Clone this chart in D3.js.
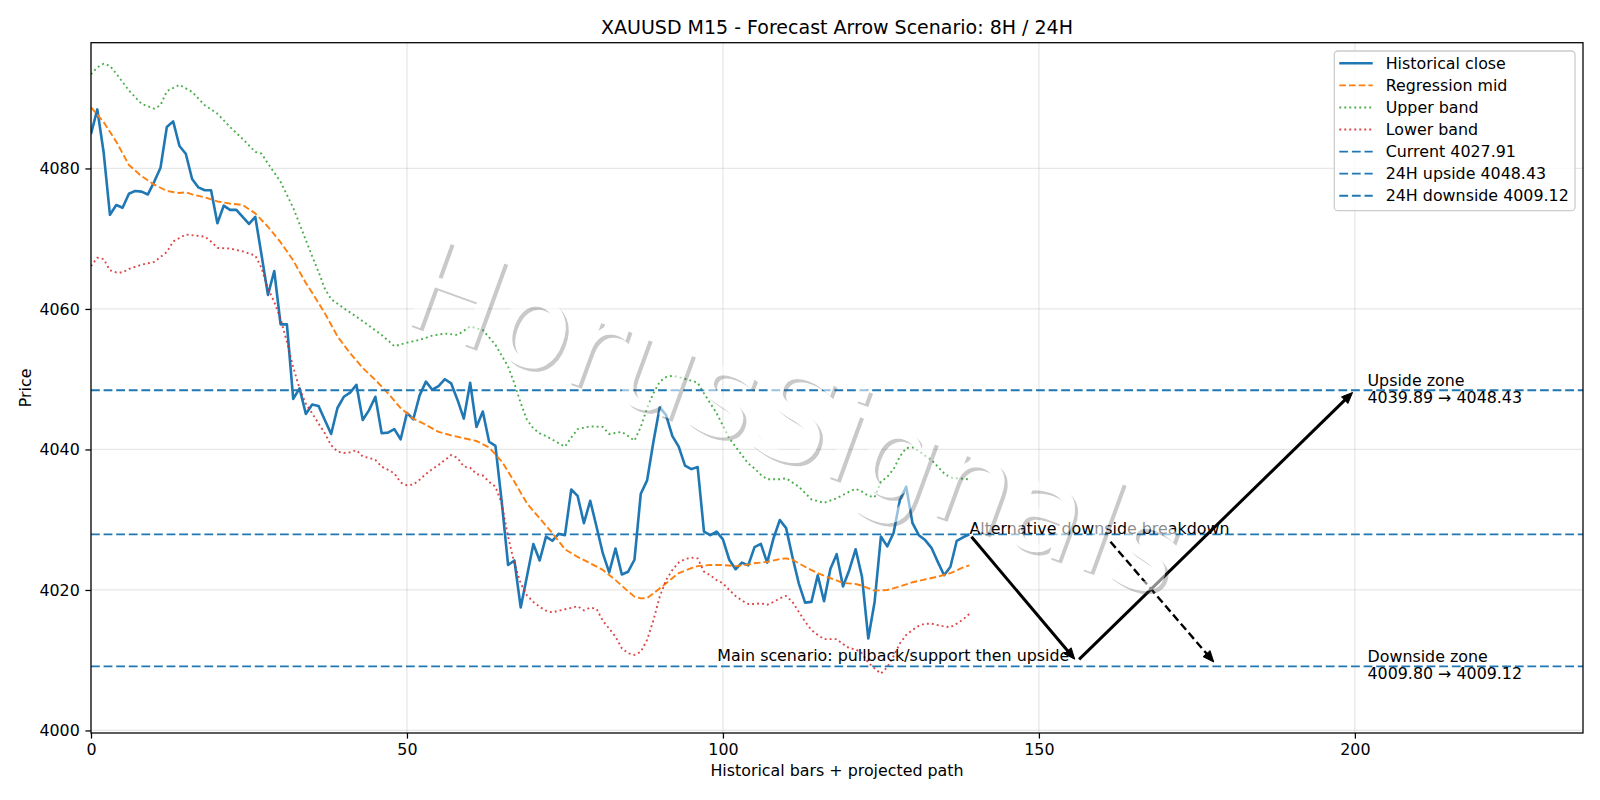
<!DOCTYPE html>
<html>
<head>
<meta charset="utf-8">
<script src="https://cdn.jsdelivr.net/npm/d3@7"></script>
<style>
  body { margin: 0; background: #fff; }
  text { font-family: "DejaVu Sans", sans-serif; }
</style>
</head>
<body>
<script>
// historical close, one value per bar (bar index = position)
const closeBars = [
  4084.9, 4088.4, 4082.3, 4073.4, 4074.8, 4074.4, 4076.4, 4076.8, 4076.7, 4076.3,
  4078.1, 4080.1, 4085.9, 4086.7, 4083.2, 4082.1, 4078.5, 4077.3, 4076.9, 4076.9,
  4072.2, 4074.7, 4074.1, 4074.1, 4073.1, 4072.1, 4073.1, 4067.6, 4062.0, 4065.4,
  4057.8, 4057.8, 4047.2, 4048.7, 4045.05, 4046.4, 4046.2, 4044.2, 4042.2, 4045.9,
  4047.5, 4048.1, 4049.2, 4044.2, 4045.6, 4047.5, 4042.3, 4042.4, 4042.9, 4041.45,
  4045.2, 4044.3, 4047.7, 4049.65, 4048.5, 4049.0, 4050.0, 4049.4, 4047.05, 4044.4,
  4049.5, 4043.2, 4045.4, 4041.1, 4040.5, 4032.5, 4023.56, 4024.2, 4017.5, 4022.0,
  4026.55, 4024.2, 4027.6, 4027.0, 4028.0, 4027.8, 4034.3, 4033.4, 4029.5, 4032.7,
  4029.0, 4025.2, 4022.5, 4025.9, 4022.2, 4022.6, 4024.3, 4033.7, 4035.6, 4041.1,
  4046.0, 4044.9, 4041.9, 4040.4, 4037.7, 4037.2, 4037.5, 4028.3, 4027.8, 4028.3,
  4027.2, 4024.3, 4022.95, 4023.9, 4023.5, 4026.1, 4026.55, 4023.9, 4027.35, 4029.96,
  4028.8, 4024.7, 4020.95, 4018.2, 4018.3, 4022.1, 4018.4, 4023.0, 4025.1, 4020.5,
  4022.85, 4025.8, 4021.9, 4013.1, 4018.3, 4027.6, 4026.2, 4028.1, 4032.8, 4034.7,
  4029.5, 4027.8, 4027.1, 4026.0, 4024.0, 4022.1, 4023.3, 4027.0, 4027.5, 4027.91
];

// regression mid / bands, read as [bar, price]
const regMid = [
  [0,4088.7],[2,4086.6],[4,4083.8],[6,4080.5],[8,4078.9],[10,4077.7],[12,4076.8],[14,4076.5],
  [15,4076.6],[16,4076.3],[18,4075.9],[20,4075.3],[22,4075.0],[24,4074.8],[26,4073.6],[28,4071.7],
  [30,4069.5],[32,4066.9],[34,4063.7],[35,4062.3],[37,4059.4],[39,4056.1],[41,4053.7],[43,4051.6],
  [45,4049.9],[47,4048.0],[49,4045.9],[51,4044.4],[53,4043.5],[55,4042.5],[57,4042.0],[59,4041.6],
  [61,4041.2],[63,4040.3],[65,4038.3],[67,4035.4],[69,4032.3],[71,4030.2],[73,4028.1],[75,4025.8],
  [77,4024.7],[79,4023.8],[81,4022.85],[83,4021.4],[85,4019.8],[86,4019.05],[87,4018.8],[88,4018.85],
  [89,4019.5],[91,4020.95],[93,4022.4],[95,4023.1],[96,4023.4],[98,4023.55],[100,4023.55],[102,4023.4],
  [104,4023.6],[105,4023.8],[107,4024.0],[109,4024.4],[110,4024.5],[111,4024.3],[113,4023.3],[115,4022.4],
  [117,4021.7],[119,4021.0],[121,4020.85],[122,4020.6],[124,4019.9],[126,4020.0],[128,4020.5],[130,4021.1],
  [132,4021.5],[134,4021.9],[136,4022.4],[138,4023.2],[139,4023.5]
];

const upperBand = [
  [0,4093.4],[1,4094.4],[2,4094.9],[3,4094.6],[4,4093.5],[6,4091.1],[8,4089.2],[10,4088.5],
  [11,4089.0],[12,4091.0],[14,4091.9],[16,4090.9],[18,4089.0],[20,4087.8],[22,4085.9],[24,4084.2],
  [26,4082.35],[27,4082.1],[28,4080.7],[30,4078.1],[32,4074.4],[34,4069.8],[35,4067.5],[36,4065.3],
  [37,4062.9],[38,4061.4],[40,4060.1],[42,4058.9],[44,4057.6],[46,4056.3],[48,4054.7],[50,4055.2],
  [52,4055.6],[54,4056.2],[56,4056.5],[58,4056.3],[60,4057.5],[62,4057.0],[64,4054.9],[66,4051.8],
  [67,4049.4],[68,4046.6],[69,4044.2],[70,4043.0],[71,4042.3],[72,4041.9],[74,4040.9],[75,4040.4],
  [76,4041.7],[77,4042.9],[79,4043.3],[81,4043.2],[82,4042.2],[84,4042.5],[85,4041.9],[86,4041.25],
  [87,4043.2],[88,4045.9],[89,4048.0],[90,4049.65],[91,4050.3],[92,4050.5],[93,4050.3],[95,4049.8],
  [96,4049.5],[97,4048.0],[99,4045.15],[101,4041.6],[102,4040.4],[104,4038.0],[105,4037.3],[106,4036.4],
  [107,4035.75],[109,4035.75],[110,4035.9],[112,4034.7],[114,4032.9],[116,4032.4],[118,4033.05],[120,4034.0],
  [121,4034.4],[122,4034.0],[123,4033.4],[124,4033.2],[125,4035.4],[126,4036.1],[127,4037.2],[128,4039.0],
  [129,4040.2],[130,4040.3],[131,4039.8],[132,4039.1],[133,4038.5],[134,4037.55],[135,4036.6],[136,4036.0],
  [137,4035.9],[139,4035.75]
];

const lowerBand = [
  [0,4066.1],[1,4067.3],[2,4067.1],[3,4065.5],[4,4065.2],[5,4065.2],[6,4065.7],[8,4066.3],
  [10,4066.7],[12,4068.1],[13,4069.6],[15,4070.6],[17,4070.4],[18,4070.3],[19,4069.6],[20,4068.7],
  [22,4068.6],[24,4068.2],[26,4067.6],[27,4065.8],[28,4062.9],[29,4061.0],[30,4058.6],[31,4055.3],
  [32,4051.7],[33,4048.7],[34,4046.5],[35,4045.15],[36,4043.7],[37,4042.3],[38,4040.6],[39,4039.7],
  [40,4039.5],[41,4039.6],[42,4039.9],[43,4039.0],[44,4038.8],[45,4038.5],[46,4037.55],[47,4037.1],
  [48,4036.6],[49,4035.3],[50,4034.9],[51,4035.0],[52,4035.7],[53,4036.5],[54,4037.2],[55,4037.8],
  [56,4038.5],[57,4039.2],[58,4038.8],[59,4037.55],[60,4037.4],[61,4036.5],[62,4036.3],[63,4035.4],
  [64,4034.7],[65,4032.3],[66,4027.6],[67,4023.8],[68,4020.95],[69,4019.2],[70,4018.3],[71,4017.6],
  [72,4017.05],[73,4016.8],[74,4017.05],[75,4017.25],[76,4017.45],[77,4017.7],[78,4017.1],[79,4017.5],
  [80,4017.3],[81,4015.6],[82,4014.5],[83,4013.35],[84,4011.7],[85,4011.0],[86,4010.75],[87,4011.2],
  [88,4012.9],[89,4015.7],[90,4019.05],[91,4021.4],[92,4022.85],[93,4023.9],[94,4024.4],[95,4024.6],
  [96,4024.5],[97,4022.6],[98,4022.1],[99,4021.4],[100,4020.95],[101,4020.0],[102,4019.15],[103,4018.5],
  [104,4018.0],[105,4018.0],[106,4018.1],[107,4017.9],[108,4018.3],[109,4018.8],[110,4019.15],[111,4018.3],
  [112,4016.9],[113,4015.5],[114,4014.3],[115,4013.6],[116,4013.0],[117,4013.0],[118,4013.0],[119,4012.3],
  [120,4011.7],[121,4011.55],[122,4011.0],[123,4009.65],[124,4008.85],[125,4008.1],[126,4009.0],[127,4010.6],
  [128,4012.4],[129,4013.6],[130,4014.3],[131,4014.9],[132,4015.2],[133,4015.2],[134,4015.0],[135,4014.8],
  [136,4014.7],[137,4015.2],[138,4015.8],[139,4016.6]
];

// levels
const currentPrice = 4027.91;
const upside24h = 4048.43;
const downside24h = 4009.12;
const upsideZone = [4039.89, 4048.43];
const downsideZone = [4009.80, 4009.12];

// projected path
const mainPath = [[139, 4027.91], [156, 4009.80], [200, 4048.43]];
const altPath = [[161, 4027.2], [178, 4009.4]];

const xTicks = [0, 50, 100, 150, 200];
const yTicks = [4000, 4020, 4040, 4060, 4080];

const legendLabels = ["Historical close", "Regression mid", "Upper band", "Lower band",
  "Current 4027.91", "24H upside 4048.43", "24H downside 4009.12"];

// ---------- drawing ----------
const W = 1600, H = 800;
const mLeft = 91, mRight = 1583, mTop = 42.7, mBottom = 733;
const FS = 15.87;

const svg = d3.select("body").append("svg").attr("width", W).attr("height", H);
const defs = svg.append("defs");

const x = d3.scaleLinear().domain([0, 236.1]).range([mLeft, mRight]);
const y = d3.scaleLinear().domain([3999.64, 4097.9]).range([mBottom, mTop]);

defs.append("clipPath").attr("id", "plot")
  .append("rect").attr("x", mLeft).attr("y", mTop).attr("width", mRight - mLeft).attr("height", mBottom - mTop);

// grid
const grid = svg.append("g").attr("stroke", "#b0b0b0").attr("stroke-opacity", 0.3).attr("stroke-width", 1.27);
grid.selectAll("line.gx").data(xTicks).enter().append("line")
  .attr("x1", d => x(d)).attr("x2", d => x(d)).attr("y1", mTop).attr("y2", mBottom);
grid.selectAll("line.gy").data(yTicks).enter().append("line")
  .attr("x1", mLeft).attr("x2", mRight).attr("y1", d => y(d)).attr("y2", d => y(d));

const plot = svg.append("g").attr("clip-path", "url(#plot)");

const line = d3.line().x(d => x(d[0])).y(d => y(d[1]));

const styles = {
  close: { color: "#1f77b4", width: 2.6, dash: null, opacity: 1 },
  mid: { color: "#ff7f0e", width: 1.9, dash: "6.7 3", opacity: 1 },
  upper: { color: "#2ca02c", width: 1.9, dash: "1.9 3.1", opacity: 0.85 },
  lower: { color: "#d62728", width: 1.9, dash: "1.9 3.1", opacity: 0.85 },
  level: { color: "#1f77b4", width: 1.9, dash: "8.8 3.8", opacity: 1 }
};

function drawSeries(data, st) {
  plot.append("path").datum(data)
    .attr("d", line)
    .attr("fill", "none")
    .attr("stroke", st.color)
    .attr("stroke-width", st.width)
    .attr("stroke-opacity", st.opacity)
    .attr("stroke-dasharray", st.dash)
    .attr("stroke-linejoin", "round");
}

drawSeries(closeBars.map((v, i) => [i, v]), styles.close);
drawSeries(regMid, styles.mid);
drawSeries(upperBand, styles.upper);
drawSeries(lowerBand, styles.lower);

[currentPrice, upside24h, downside24h].forEach(v => {
  plot.append("line")
    .attr("x1", mLeft).attr("x2", mRight).attr("y1", y(v)).attr("y2", y(v))
    .attr("stroke", styles.level.color).attr("stroke-width", styles.level.width)
    .attr("stroke-dasharray", styles.level.dash);
});

// arrows
function arrow(p0, p1, dashed) {
  const ax = x(p0[0]), ay = y(p0[1]), bx = x(p1[0]), by = y(p1[1]);
  const len = Math.hypot(bx - ax, by - ay);
  const ux = (bx - ax) / len, uy = (by - ay) / len;
  const shrink = 3.2, headLen = 11, headW = 4.6;
  const sx = ax + ux * shrink, sy = ay + uy * shrink;
  const tx = bx - ux * shrink, ty = by - uy * shrink;
  const ex = tx - ux * headLen * 0.8, ey = ty - uy * headLen * 0.8;
  plot.append("line")
    .attr("x1", sx).attr("y1", sy).attr("x2", ex).attr("y2", ey)
    .attr("stroke", "#000").attr("stroke-width", dashed ? 2.4 : 3)
    .attr("stroke-dasharray", dashed ? "8 4" : null);
  const hx = tx - ux * headLen, hy = ty - uy * headLen;
  plot.append("path")
    .attr("d", `M${tx},${ty}L${hx - uy * headW},${hy + ux * headW}L${hx + uy * headW},${hy - ux * headW}Z`)
    .attr("fill", "#000").attr("stroke", "#000").attr("stroke-width", 1);
}
arrow(mainPath[0], mainPath[1], false);
arrow(mainPath[1], mainPath[2], false);
arrow(altPath[0], altPath[1], true);

// annotation texts
const ann = svg.append("g").attr("font-size", FS).attr("fill", "#000");
ann.append("text").attr("x", x(139)).attr("y", y(currentPrice)).text("Alternative downside breakdown");
ann.append("text").attr("x", x(99.1)).attr("y", y(4009.9)).text("Main scenario: pullback/support then upside");

function zoneLabel(level, title, range) {
  const t = ann.append("text").attr("x", x(202));
  t.append("tspan").attr("x", x(202)).attr("y", y(level) - 4).text(title);
  t.append("tspan").attr("x", x(202)).attr("y", y(level) + 12.6)
    .text(range[0].toFixed(2) + " \u2192 " + range[1].toFixed(2));
}
zoneLabel(upside24h, "Upside zone", upsideZone);
zoneLabel(downside24h, "Downside zone", downsideZone);

// watermark: white text with a soft grey drop shadow
const wmText = "HorusSignals";
const wmTransform = "translate(795,418) rotate(20)";
const wmMask = defs.append("mask").attr("id", "wmMask").attr("maskUnits", "userSpaceOnUse")
  .attr("x", 0).attr("y", 0).attr("width", W).attr("height", H);
wmMask.append("rect").attr("width", W).attr("height", H).attr("fill", "#fff");
wmMask.append("text").attr("transform", wmTransform)
  .attr("font-size", 125).attr("text-anchor", "middle").attr("dominant-baseline", "central")
  .attr("fill", "#000").text(wmText);
svg.append("g").attr("mask", "url(#wmMask)")
  .append("text").attr("transform", "translate(3.2,3.2) " + wmTransform)
  .attr("font-size", 125).attr("text-anchor", "middle").attr("dominant-baseline", "central")
  .attr("fill", "#4d4d4d").attr("fill-opacity", 0.3).text(wmText);
svg.append("text").attr("transform", wmTransform)
  .attr("font-size", 125).attr("text-anchor", "middle").attr("dominant-baseline", "central")
  .attr("fill", "#fff").attr("fill-opacity", 0.55).text(wmText);

// spines
svg.append("rect").attr("x", mLeft).attr("y", mTop).attr("width", mRight - mLeft).attr("height", mBottom - mTop)
  .attr("fill", "none").attr("stroke", "#000").attr("stroke-width", 1.27);

// axes
const xAxisG = svg.append("g").attr("transform", `translate(0,${mBottom})`)
  .call(d3.axisBottom(x).tickValues(xTicks).tickFormat(d3.format("d")).tickSize(5.6).tickPadding(5.6));
const yAxisG = svg.append("g").attr("transform", `translate(${mLeft},0)`)
  .call(d3.axisLeft(y).tickValues(yTicks).tickFormat(d3.format("d")).tickSize(5.6).tickPadding(5.6));
[xAxisG, yAxisG].forEach(g => {
  g.attr("font-size", FS).attr("font-family", "DejaVu Sans");
  g.select(".domain").remove();
  g.selectAll(".tick line").attr("stroke", "#000").attr("stroke-width", 1.27);
  g.selectAll(".tick text").attr("fill", "#000");
});

// titles
svg.append("text").attr("x", (mLeft + mRight) / 2).attr("y", 33.5).attr("text-anchor", "middle")
  .attr("font-size", 19).text("XAUUSD M15 - Forecast Arrow Scenario: 8H / 24H");
svg.append("text").attr("x", (mLeft + mRight) / 2).attr("y", 776).attr("text-anchor", "middle")
  .attr("font-size", FS).text("Historical bars + projected path");
svg.append("text").attr("transform", `translate(31,${(mTop + mBottom) / 2}) rotate(-90)`)
  .attr("text-anchor", "middle").attr("font-size", FS).text("Price");

// legend
const lg = svg.append("g");
lg.append("rect").attr("x", 1334.3).attr("y", 51).attr("width", 240.7).attr("height", 159.7)
  .attr("rx", 3.5).attr("fill", "#fff").attr("fill-opacity", 0.8)
  .attr("stroke", "#cccccc").attr("stroke-width", 1.27);
const legendStyles = [styles.close, styles.mid, styles.upper, styles.lower, styles.level, styles.level, styles.level];
legendLabels.forEach((lab, i) => {
  const cy = 63.3 + i * 22.07;
  const st = legendStyles[i];
  lg.append("line").attr("x1", 1339.3).attr("x2", 1372.7).attr("y1", cy).attr("y2", cy)
    .attr("stroke", st.color).attr("stroke-width", st.width).attr("stroke-opacity", st.opacity)
    .attr("stroke-dasharray", st.dash);
  lg.append("text").attr("x", 1385.7).attr("y", cy).attr("dy", "0.35em")
    .attr("font-size", FS).text(lab);
});
</script>
</body>
</html>
